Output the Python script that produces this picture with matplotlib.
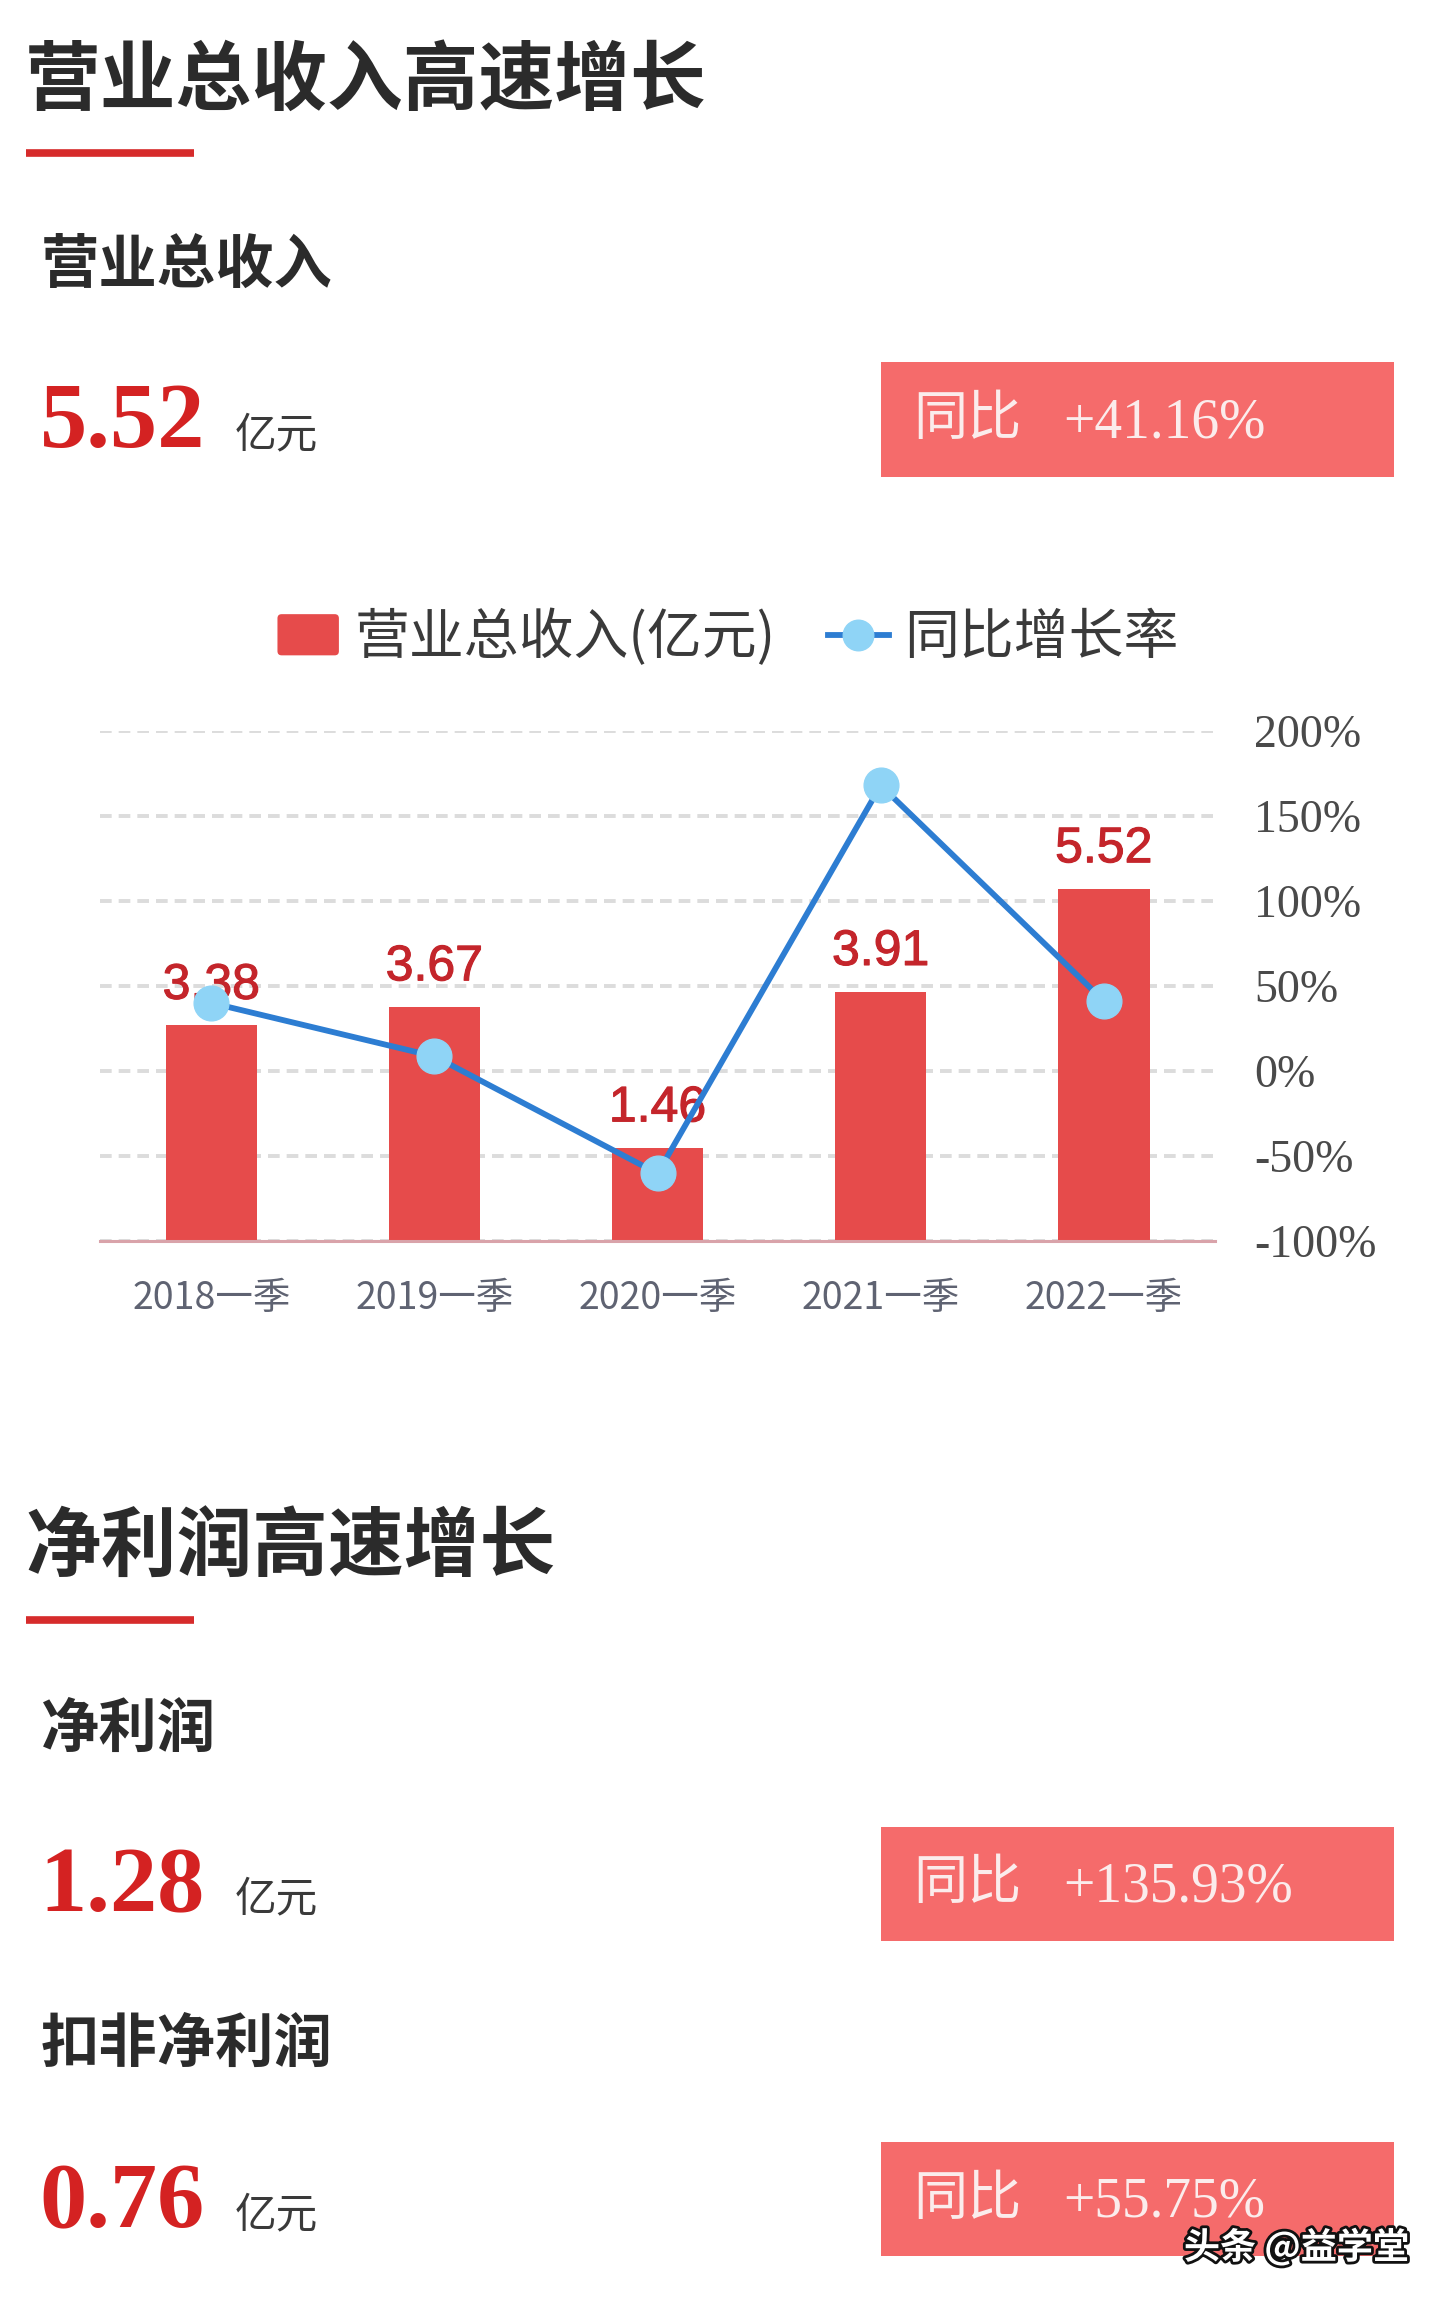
import matplotlib
matplotlib.use("Agg")
import matplotlib.pyplot as plt
import matplotlib.patheffects as pe
from matplotlib.patches import Rectangle, FancyBboxPatch
from matplotlib.legend_handler import HandlerPatch
from matplotlib.lines import Line2D
import numpy as np

plt.rcParams['font.family'] = ['Noto Sans CJK SC', 'DejaVu Sans']

# ---------------- data ----------------
categories = ["2018一季", "2019一季", "2020一季", "2021一季", "2022一季"]
revenue = [3.38, 3.67, 1.46, 3.91, 5.52]          # 亿元
yoy_growth = [40.0, 8.58, -60.22, 167.81, 41.16]  # %
right_ticks = [-100, -50, 0, 50, 100, 150, 200]

section_titles = ["营业总收入高速增长", "净利润高速增长"]
metric_names = ["营业总收入", "净利润", "扣非净利润"]
metric_values = ["5.52", "1.28", "0.76"]
metric_yoy = ["+41.16%", "+135.93%", "+55.75%"]
legend_labels = ["营业总收入(亿元)", "同比增长率"]

# ---------------- styles ----------------
BAR_C = "#E64B4B"
LINE_C = "#2D7DD2"
DOT_C = "#8FD4F6"
LABEL_RED = "#C4252B"
BOX_C = "#F56B6B"
TITLE_C = "#2B2B2B"
SERIF = ['Liberation Serif', 'DejaVu Serif']

DW, DH = 981.0, 1567.0
fx = lambda x: x / DW
fy = lambda y: 1 - y / DH

fig = plt.figure(figsize=(14.4, 22.99), dpi=100)
fig.patch.set_facecolor("white")

# ---------------- headers / summary blocks ----------------
def section_header(title, y_title, y_line):
    fig.text(fx(17), fy(y_title), title, fontsize=54.5, color=TITLE_C,
             ha='left', va='center', fontweight='bold')
    fig.add_artist(Line2D([fx(18), fx(132)], [fy(y_line), fy(y_line)],
                          transform=fig.transFigure, color="#D62B2B", lw=5.5,
                          solid_capstyle='butt'))

def metric_block(name, value, yoy, y_name, y_base, box_top, box_bot):
    fig.text(fx(28), fy(y_name), name, fontsize=42, color=TITLE_C,
             ha='left', va='center', fontweight='bold')
    fig.text(fx(27), fy(y_base), value, fontsize=68, color="#D42222",
             family=SERIF, fontweight='bold', ha='left', va='baseline')
    fig.text(fx(160), fy(y_base), "亿元", fontsize=30, color="#3A3A3A",
             ha='left', va='baseline')
    fig.add_artist(Rectangle((fx(600), fy(box_bot)), fx(950) - fx(600),
                             (box_bot - box_top) / DH, transform=fig.transFigure,
                             facecolor=BOX_C, edgecolor='none'))
    ymid = (box_top + box_bot) / 2
    fig.text(fx(622), fy(ymid), "同比", fontsize=39, color="#FBECEC",
             ha='left', va='center')
    fig.text(fx(724), fy(ymid + 12), yoy, fontsize=40, color="#FBECEC",
             family=SERIF, ha='left', va='baseline')

section_header(section_titles[0], 55, 104)
metric_block(metric_names[0], metric_values[0], metric_yoy[0], 181, 305, 247, 325)

section_header(section_titles[1], 1055, 1104)
metric_block(metric_names[1], metric_values[1], metric_yoy[1], 1179, 1303, 1245, 1323)
metric_block(metric_names[2], metric_values[2], metric_yoy[2], 1394, 1518, 1460, 1538)

# ---------------- chart ----------------
ax = fig.add_axes([fx(68), fy(846), fx(828) - fx(68), (846 - 498) / DH])
x = np.arange(len(categories))
bars = ax.bar(x, revenue, width=0.41, color=BAR_C, zorder=2, label=legend_labels[0])
ax.set_xlim(-0.5, len(categories) - 0.5)
ax.set_ylim(0, 8)
ax.set_yticks(np.linspace(0, 8, 7))
ax.yaxis.grid(True, color="#DCDCDC", lw=2.8, linestyle=(0, (3.0, 1.8)), zorder=0)
ax.set_axisbelow(True)
ax.tick_params(axis='y', length=0, labelleft=False)
ax.set_xticks(x)
ax.set_xticklabels(categories, fontsize=27, color="#5F6372")
ax.tick_params(axis='x', length=0, pad=27)
for s in ['top', 'left', 'right']:
    ax.spines[s].set_visible(False)
ax.spines['bottom'].set_color("#D9A3AA")
ax.spines['bottom'].set_linewidth(2.2)

for xi, v in zip(x, revenue):
    ax.annotate(f"{v:.2f}", (xi, v), xytext=(0, 12), textcoords='offset points',
                ha='center', va='bottom', fontsize=36, color=LABEL_RED,
                family=['Liberation Sans', 'DejaVu Sans'], zorder=3,
                path_effects=[pe.withStroke(linewidth=0.8, foreground=LABEL_RED)])

ax2 = ax.twinx()
line, = ax2.plot(x, yoy_growth, color=LINE_C, lw=4.2, marker='o', markersize=25,
                 markerfacecolor=DOT_C, markeredgecolor=DOT_C, zorder=4,
                 label=legend_labels[1])
ax2.set_ylim(-100, 200)
ax2.set_yticks(right_ticks)
ax2.set_yticklabels([f"{t}%" for t in right_ticks], family=SERIF, fontsize=33,
                    color="#4A4A4A")
ax2.tick_params(axis='y', length=0, pad=28)
for s in ['top', 'left', 'right', 'bottom']:
    ax2.spines[s].set_visible(False)

# legend
class RoundHandler(HandlerPatch):
    def create_artists(self, legend, orig_handle, xdescent, ydescent, width,
                       height, fontsize, trans):
        p = FancyBboxPatch((-xdescent + 3, -ydescent + 2), width - 6, height - 4,
                           boxstyle="round,pad=3", facecolor=BAR_C,
                           edgecolor='none', transform=trans)
        return [p]

leg = fig.legend([bars.patches[0], line], legend_labels, loc='center',
                 bbox_to_anchor=(fx(496), fy(435)), ncol=2, frameon=False,
                 fontsize=39.5, handlelength=1.12, handletextpad=0.28,
                 columnspacing=0.95, labelcolor="#3A3A3A",
                 handler_map={bars.patches[0]: RoundHandler()})
for h in leg.legend_handles:
    if isinstance(h, Line2D):
        h.set_markersize(22)

# watermark
fig.text(fx(960), fy(1532), "头条 @益学堂", fontsize=26, color="white",
         ha='right', va='center', fontweight='bold',
         path_effects=[pe.withStroke(linewidth=4, foreground="#111111")])

fig.savefig("out.png", dpi=100, facecolor="white")
